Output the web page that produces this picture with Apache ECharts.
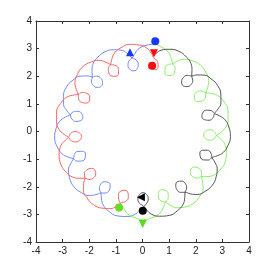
<!DOCTYPE html>
<html><head><meta charset="utf-8">
<script src="https://cdn.jsdelivr.net/npm/echarts@6/dist/echarts.min.js"></script>
<style>html,body{margin:0;padding:0;background:#fff}#c{width:275px;height:273px}</style>
</head><body><div id="c"></div>
<script>
// Tick values (both axes)
const ticks = [-4,-3,-2,-1,0,1,2,3,4];
// Trajectories as [radius, angle in degrees]
const bluePath = [
[3.27,81.5],
[3.19,87],[3.08,92],[2.90,95.5],[2.74,98],[2.65,100.9],[2.49,102.4],[2.33,101.2],[2.26,98],[2.33,94.8],[2.49,93.6],[2.65,95.1],[2.74,98],[2.90,100.5],[3.08,104],[3.19,109],[3.25,115.25],
[3.19,121.5],[3.08,126.5],[2.90,130],[2.74,132.5],[2.65,135.4],[2.49,136.9],[2.33,135.7],[2.26,132.5],[2.33,129.3],[2.49,128.1],[2.65,129.6],[2.74,132.5],[2.90,135],[3.08,138.5],[3.19,143.5],[3.25,149.75],
[3.19,156],[3.08,161],[2.90,164.5],[2.74,167],[2.65,169.9],[2.49,171.4],[2.33,170.2],[2.26,167],[2.33,163.8],[2.49,162.6],[2.65,164.1],[2.74,167],[2.90,169.5],[3.08,173],[3.19,178],[3.25,184.25],
[3.19,190.5],[3.08,195.5],[2.90,199],[2.74,201.5],[2.65,204.4],[2.49,205.9],[2.33,204.7],[2.26,201.5],[2.33,198.3],[2.49,197.1],[2.65,198.6],[2.74,201.5],[2.90,204],[3.08,207.5],[3.19,212.5],[3.25,218.75],
[3.19,225],[3.08,230],[2.90,233.5],[2.74,236],[2.65,238.9],[2.49,240.4],[2.33,239.2],[2.26,236],[2.33,232.8],[2.49,231.6],[2.65,233.1],[2.74,236],[2.90,238.5],[3.08,242],[3.19,247],[3.25,253.25],
[3.19,259.5],[3.08,264.5],[2.90,268],[2.80,269.6]
];
const blackPath = [
[2.80,270.3],[2.65,273.4],[2.49,274.9],[2.33,273.7],[2.26,270.5],[2.33,267.3],[2.49,266.1],[2.65,267.6],[2.74,270.5],[2.90,273],[3.08,276.5],[3.19,281.5],[3.25,287.75],
[3.19,294],[3.08,299],[2.90,302.5],[2.74,305],[2.65,307.9],[2.49,309.4],[2.33,308.2],[2.26,305],[2.33,301.8],[2.49,300.6],[2.65,302.1],[2.74,305],[2.90,307.5],[3.08,311],[3.19,316],[3.25,322.25],
[3.19,328.5],[3.08,333.5],[2.90,337],[2.74,339.5],[2.65,342.4],[2.49,343.9],[2.33,342.7],[2.26,339.5],[2.33,336.3],[2.49,335.1],[2.65,336.6],[2.74,339.5],[2.90,342],[3.08,345.5],[3.19,350.5],[3.25,356.75],
[3.19,3],[3.08,8],[2.90,11.5],[2.74,14],[2.65,16.9],[2.49,18.4],[2.33,17.2],[2.26,14],[2.33,10.8],[2.49,9.6],[2.65,11.1],[2.74,14],[2.90,16.5],[3.08,20],[3.19,25],[3.25,31.25],
[3.19,37.5],[3.08,42.5],[2.90,46],[2.74,48.5],[2.65,51.4],[2.49,52.9],[2.33,51.7],[2.26,48.5],[2.33,45.3],[2.49,44.1],[2.65,45.6],[2.74,48.5],[2.90,51],[3.08,54.5],[3.19,59.5],[3.25,65.75],
[3.19,72],[3.08,77],[2.90,80.5],[2.80,82]
];
const redPath = [
[2.34,81.3],[2.33,77.8],[2.49,76.6],[2.65,78.1],[2.74,81],[2.90,83.5],[3.08,87],[3.19,92],[3.25,98.25],
[3.19,104.5],[3.08,109.5],[2.90,113],[2.74,115.5],[2.65,118.4],[2.49,119.9],[2.33,118.7],[2.26,115.5],[2.33,112.3],[2.49,111.1],[2.65,112.6],[2.74,115.5],[2.90,118],[3.08,121.5],[3.19,126.5],[3.25,132.75],
[3.19,139],[3.08,144],[2.90,147.5],[2.74,150],[2.65,152.9],[2.49,154.4],[2.33,153.2],[2.26,150],[2.33,146.8],[2.49,145.6],[2.65,147.1],[2.74,150],[2.90,152.5],[3.08,156],[3.19,161],[3.25,167.25],
[3.19,173.5],[3.08,178.5],[2.90,182],[2.74,184.5],[2.65,187.4],[2.49,188.9],[2.33,187.7],[2.26,184.5],[2.33,181.3],[2.49,180.1],[2.65,181.6],[2.74,184.5],[2.90,187],[3.08,190.5],[3.19,195.5],[3.25,201.75],
[3.19,208],[3.08,213],[2.90,216.5],[2.74,219],[2.65,221.9],[2.49,223.4],[2.33,222.2],[2.26,219],[2.33,215.8],[2.49,214.6],[2.65,216.1],[2.74,219],[2.90,221.5],[3.08,225],[3.19,230],[3.25,236.25],
[3.19,242.5],[3.08,247.5],[2.90,251],[2.74,253.5],[2.65,256.4],[2.49,257.9],[2.33,256.7],[2.26,253.5],[2.33,250.3],[2.49,249.1],[2.65,250.6],[2.78,253.2]
];
const greenPath = [
[2.80,253],[2.90,256],[3.08,259.5],[3.19,264.5],[3.25,270.75],
[3.19,277],[3.08,282],[2.90,285.5],[2.74,288],[2.65,290.9],[2.49,292.4],[2.33,291.2],[2.26,288],[2.33,284.8],[2.49,283.6],[2.65,285.1],[2.74,288],[2.90,290.5],[3.08,294],[3.19,299],[3.25,305.25],
[3.19,311.5],[3.08,316.5],[2.90,320],[2.74,322.5],[2.65,325.4],[2.49,326.9],[2.33,325.7],[2.26,322.5],[2.33,319.3],[2.49,318.1],[2.65,319.6],[2.74,322.5],[2.90,325],[3.08,328.5],[3.19,333.5],[3.25,339.75],
[3.19,346],[3.08,351],[2.90,354.5],[2.74,357],[2.65,359.9],[2.49,1.4],[2.33,0.2],[2.26,357],[2.33,353.8],[2.49,352.6],[2.65,354.1],[2.74,357],[2.90,359.5],[3.08,3],[3.19,8],[3.25,14.25],
[3.19,20.5],[3.08,25.5],[2.90,29],[2.74,31.5],[2.65,34.4],[2.49,35.9],[2.33,34.7],[2.26,31.5],[2.33,28.3],[2.49,27.1],[2.65,28.6],[2.74,31.5],[2.90,34],[3.08,37.5],[3.19,42.5],[3.25,48.75],
[3.19,55],[3.08,60],[2.90,63.5],[2.74,66],[2.65,68.9],[2.49,70.4],[2.33,69.2],[2.26,66],[2.33,62.8],[2.49,61.6],[2.65,63.1],[2.74,66],[2.90,68.5],[3.08,72],[3.19,77],[3.26,82]
];
// Marker positions [x, y]
const blueCircle = [[0.48,3.27]];
const blueTriangle = [[-0.47,2.87]];
const redCircle = [[0.36,2.38]];
const redTriangle = [[0.43,2.83]];
const blackCircle = [[0.01,-2.87]];
const blackTriangle = [[-0.06,-2.38]];
const greenCircle = [[-0.88,-2.75]];
const greenTriangle = [[0.01,-3.35]];

const FONT = 'Liberation Sans, Arial, sans-serif';
const chart = echarts.init(document.getElementById('c'), null, {renderer:'canvas'});
const gl = 36, gr = 26, gt = 21, gb = 31;
const axisLine = {show:true, onZero:false, lineStyle:{color:'#333', width:1}};
const tick = {show:true, inside:true, length:3, lineStyle:{color:'#333', width:1}};
function ax(pos, label){
  return {type:'value', position:pos, min:ticks[0], max:ticks[ticks.length-1], interval:1,
    axisLine:axisLine, axisTick:tick, splitLine:{show:false},
    axisLabel:{show:label, fontSize:10, color:'#222', fontFamily:FONT, margin:4}};
}
const cx = gl + (275-gl-gr)/2, cy = gt + (273-gt-gb)/2;
function path(data, color){
  return {type:'line', coordinateSystem:'polar', data:data, smooth:0.5, showSymbol:false,
    symbol:'none', lineStyle:{color:color, width:1}, z:2, silent:true};
}
function mark(data, symbol, rot, color){
  return {type:'scatter', xAxisIndex:0, yAxisIndex:0, data:data, symbol:symbol, symbolRotate:rot,
    symbolSize:8, itemStyle:{color:color, opacity:1}, z:5, silent:true};
}
chart.setOption({
  animation:false,
  backgroundColor:'#fff',
  grid:{left:gl, right:gr, top:gt, bottom:gb},
  xAxis:[ax('bottom', true), ax('top', false)],
  yAxis:[ax('left', true), ax('right', false)],
  polar:{center:[cx, cy], radius:108.4},
  angleAxis:{type:'value', min:0, max:360, startAngle:0, clockwise:false, show:false,
    axisLine:{show:false}, axisTick:{show:false}, axisLabel:{show:false}, splitLine:{show:false}},
  radiusAxis:{type:'value', min:0, max:4, show:false,
    axisLine:{show:false}, axisTick:{show:false}, axisLabel:{show:false}, splitLine:{show:false}},
  series:[
    path(bluePath, '#6f8aff'),
    path(redPath, '#ff6262'),
    path(greenPath, '#88ee66'),
    path(blackPath, '#555555'),
    mark(blueCircle, 'circle', 0, '#1538ff'),
    mark(blueTriangle, 'triangle', 0, '#1538ff'),
    mark(redTriangle, 'triangle', 180, '#ff0a0a'),
    mark(redCircle, 'circle', 0, '#ff0a0a'),
    mark(blackTriangle, 'triangle', 90, '#000000'),
    mark(blackCircle, 'circle', 0, '#000000'),
    mark(greenTriangle, 'triangle', 180, '#55dd1a'),
    mark(greenCircle, 'circle', 0, '#66dd22')
  ]
});
</script></body></html>
